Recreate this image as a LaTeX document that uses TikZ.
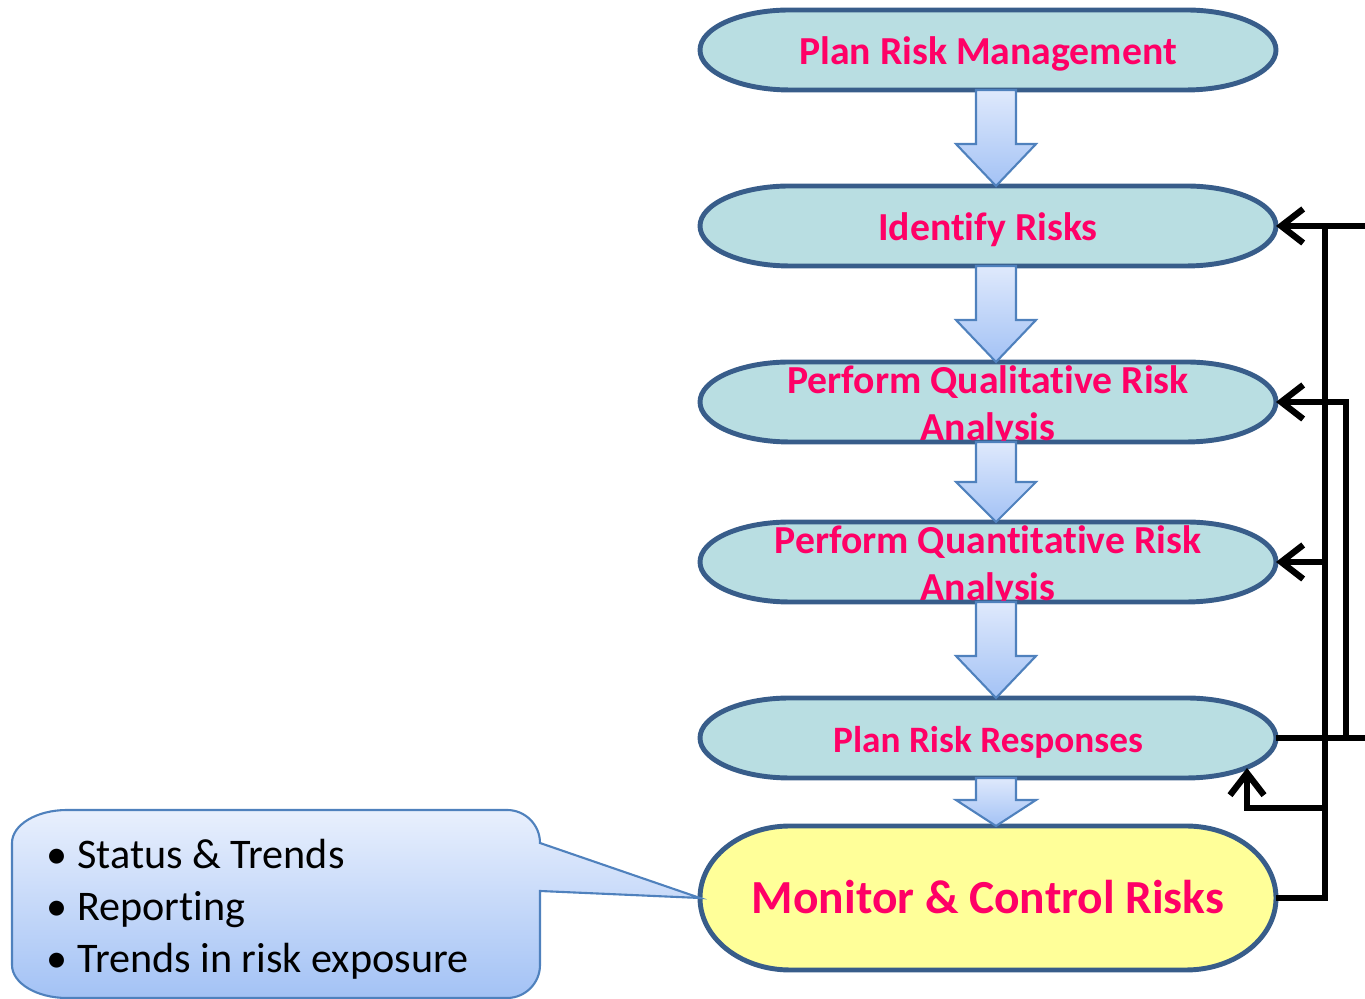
\documentclass[tikz,border=0pt]{standalone}
\usepackage{fontspec}
\setmainfont{Carlito}[Ligatures=NoCommon]
\usetikzlibrary{arrows.meta,calc,backgrounds}

\definecolor{stagefill}{RGB}{185,222,226}
\definecolor{stageline}{RGB}{56,93,138}
\definecolor{monitorfill}{RGB}{255,255,153}
\definecolor{riskpink}{RGB}{255,0,102}
\definecolor{flowtop}{RGB}{223,233,252}
\definecolor{flowbottom}{RGB}{163,194,245}
\definecolor{flowline}{RGB}{79,129,189}

\tikzset{
  stage/.style={minimum width=5.76cm, minimum height=0.8cm, inner sep=0pt, outer sep=0pt, align=center,
    text=riskpink, font=\bfseries\fontsize{11.3}{13.4}\selectfont},
  oneline/.style={text height=10.4pt, text depth=2.2pt},
  stageshape/.style={draw=stageline, line width=1.4pt, fill=stagefill},
  flowarrow/.style={draw=flowline, line width=0.6pt, top color=flowtop, bottom color=flowbottom},
  feedback/.style={line width=1.8pt, -{Straight Barb[length=2.2mm,width=3.4mm]}},
  feedline/.style={line width=1.8pt},
  callout/.style={draw=flowline, line width=0.6pt, top color=flowtop!70!white, bottom color=flowbottom},
  calloutlist/.style={anchor=west, align=left, inner sep=0pt, font=\fontsize{12}{14.8}\selectfont}
}

% down arrow between two stages: from, to, head length
\newcommand{\flowstep}[3]{%
  \draw[flowarrow] ($(#1.south)+(-0.12,0)$) -- ($(#2.north)+(-0.12,#3)$) -- ($(#2.north)+(-0.32,#3)$)
    -- ($(#2.north)+(0.08,0)$) -- ($(#2.north)+(0.48,#3)$) -- ($(#2.north)+(0.28,#3)$)
    -- ($(#1.south)+(0.28,0)$) -- cycle;}

% stadium outline round a stage: node, half height, extra options
\newcommand{\stageoutline}[3]{%
  \draw[stageshape, #3] ([xshift=0.9cm]#1.north west) -- ([xshift=-0.9cm]#1.north east)
    arc[start angle=90, end angle=-90, x radius=0.9cm, y radius=#2]
    -- ([xshift=0.9cm]#1.south west)
    arc[start angle=270, end angle=90, x radius=0.9cm, y radius=#2] -- cycle;}

\begin{document}
\begin{tikzpicture}
\useasboundingbox (0,0) rectangle (13.65,9.99);

% Process stages
\node[stage, oneline] (prm) at (9.88,9.49) {Plan Risk Management};
\node[stage, oneline] (ir) at (9.88,7.73) {Identify Risks};
\node[stage] (pqlra) at (9.88,5.97) {};
\node[stage] (pqlra-text) at (9.88,5.93) {Perform Qualitative Risk\\Analysis};
\node[stage] (pqnra) at (9.88,4.37) {};
\node[stage] (pqnra-text) at (9.88,4.33) {Perform Quantitative Risk\\Analysis};
\node[stage, oneline, font=\bfseries\fontsize{10.6}{13}\selectfont] (prr) at (9.88,2.61) {Plan Risk Responses};
\node[stage, minimum height=1.44cm, text height=12pt, text depth=3pt,
  font=\bfseries\fontsize{13.5}{16}\selectfont] (mcr) at (9.88,1.01) {Monitor \& Control Risks};

\begin{scope}[on background layer]
\foreach \s in {prm,ir,pqlra,pqnra,prr}
  \stageoutline{\s}{0.4cm}{};
\stageoutline{mcr}{0.72cm}{fill=monitorfill};
\end{scope}

% Flow arrows
\flowstep{prm}{ir}{0.42}
\flowstep{ir}{pqlra}{0.42}
\flowstep{pqlra}{pqnra}{0.4}
\flowstep{pqnra}{prr}{0.42}
\flowstep{prr}{mcr}{0.26}

% Feedback lines
\coordinate (bus) at (13.25,0);
\coordinate (bus2) at (13.46,0);
\coordinate (rim) at (13.65,0);
\coordinate (rrturn) at (13.25,1.91);
\coordinate (rrtip) at (12.47,2.31);
\draw[feedback] (mcr.east) -- (mcr.east -| bus) |- (ir.east);
\draw[feedline] (ir.east -| bus) -- (ir.east -| rim);
\draw[feedback] (pqnra.east -| bus) -- (pqnra.east);
\draw[feedback] (rrturn) -| (rrtip);
\draw[feedline] (prr.east) -- (prr.east -| rim);
\draw[feedback] (prr.east -| bus2) |- (pqlra.east);

% Callout
\draw[callout] (mcr.west) -- (5.40,1.56) arc[start angle=0, end angle=90, radius=0.33cm]
  -- (0.67,1.89) arc[start angle=90, end angle=180, x radius=0.55cm, y radius=0.33cm]
  -- (0.12,0.34) arc[start angle=180, end angle=270, x radius=0.55cm, y radius=0.33cm]
  -- (5.07,0.01) arc[start angle=270, end angle=360, radius=0.33cm] -- (5.40,1.08) -- cycle;
\node[calloutlist] (status) at (0.46,0.90) {\textbullet\ Status \& Trends\\\textbullet\ Reporting\\\textbullet\ Trends in risk exposure};

\end{tikzpicture}
\end{document}
